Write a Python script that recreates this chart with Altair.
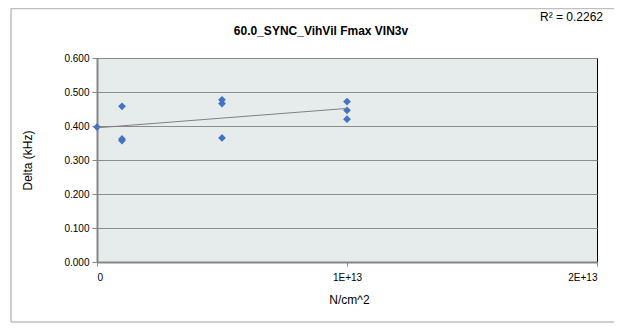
import altair as alt
import pandas as pd

# ---- data ----
fluence = [0, 1e12, 1e12, 1e12, 5e12, 5e12, 5e12, 1e13, 1e13, 1e13]
delta = [0.397, 0.458, 0.362, 0.357, 0.477, 0.466, 0.365, 0.472, 0.446, 0.420]
x_ticks = [0, 1e13, 2e13]
y_ticks = [0.0, 0.1, 0.2, 0.3, 0.4, 0.5, 0.6]
title_text = ["60.0_SYNC_VihVil Fmax VIN3v"]
r2_text = ["R² = 0.2262"]

df = pd.DataFrame({"x": fluence, "y": delta})

FONT = "Liberation Sans"
W, H = 500, 204

xs = alt.Scale(domain=[0, 2e13], nice=False, zero=False)
ys = alt.Scale(domain=[0, 0.6], nice=False)

x_axis = alt.Axis(
    values=x_ticks,
    labelExpr="datum.value == 0 ? '0' : (datum.value / 1e13) + 'E+13'",
    title="N/cm^2",
    grid=False,
    domainColor="#868686",
    domainWidth=2,
    tickColor="#868686",
    tickSize=4,
    labelPadding=6,
    labelFontSize=10,
    labelColor="#000000",
    labelFont=FONT,
    titleFont=FONT,
    titleFontSize=12,
    titleFontWeight="normal",
    titleColor="#000000",
    titleX=252,
    titleY=37,
    titleBaseline="middle",
)
y_axis = alt.Axis(
    values=y_ticks,
    format=".3f",
    title="Delta (kHz)",
    grid=True,
    gridColor="#8C8C8C",
    gridWidth=1,
    domainColor="#868686",
    domainWidth=2,
    tickColor="#868686",
    tickSize=5,
    labelPadding=3,
    labelFontSize=10,
    labelColor="#000000",
    labelFont=FONT,
    titleFont=FONT,
    titleFontSize=12,
    titleFontWeight="normal",
    titleColor="#000000",
    titleX=-70,
    titleY=H / 2,
    titleBaseline="middle",
    titleAlign="center",
)

base = alt.Chart(df)

points = base.mark_point(
    shape="diamond", filled=True, size=60, color="#4472C4", opacity=1
).encode(
    x=alt.X("x:Q", scale=xs, axis=x_axis),
    y=alt.Y("y:Q", scale=ys, axis=y_axis),
)

trend = base.transform_regression("x", "y").mark_line(
    color="#7F7F7F", strokeWidth=1
).encode(
    x=alt.X("x:Q", scale=xs, axis=x_axis),
    y=alt.Y("y:Q", scale=ys, axis=y_axis),
)

title = alt.Chart(pd.DataFrame({"t": title_text})).mark_text(
    font=FONT, fontSize=12, fontWeight="bold", color="#000000",
    align="center", baseline="middle",
).encode(text="t:N", x=alt.value(224), y=alt.value(-27))

r2 = alt.Chart(pd.DataFrame({"t": r2_text})).mark_text(
    font=FONT, fontSize=12, color="#000000", align="left", baseline="middle",
).encode(text="t:N", x=alt.value(443), y=alt.value(-41))

frame_df = pd.DataFrame({"t": [0]})
frame_left = alt.Chart(frame_df).mark_rule(color="#BFBFBF", strokeWidth=1.5).encode(
    x=alt.value(-86), y=alt.value(-49.5), y2=alt.value(264)
)
frame_top = alt.Chart(frame_df).mark_rule(color="#BFBFBF", strokeWidth=1.5).encode(
    x=alt.value(-86), x2=alt.value(530), y=alt.value(-49.5)
)
frame_bottom = alt.Chart(frame_df).mark_rule(color="#BFBFBF", strokeWidth=1.5).encode(
    x=alt.value(-86), x2=alt.value(530), y=alt.value(264)
)

chart = alt.layer(frame_left, frame_top, frame_bottom, points, trend, title, r2).properties(
    width=W,
    height=H,
    autosize="none",
    padding={"left": 89, "top": 50, "right": 17, "bottom": 61},
    background="#FFFFFF",
).configure_view(
    fill="#E6ECEC", stroke="#000000", strokeWidth=1
)

chart.save("out.html", embed_options={"renderer": "svg", "actions": False})
